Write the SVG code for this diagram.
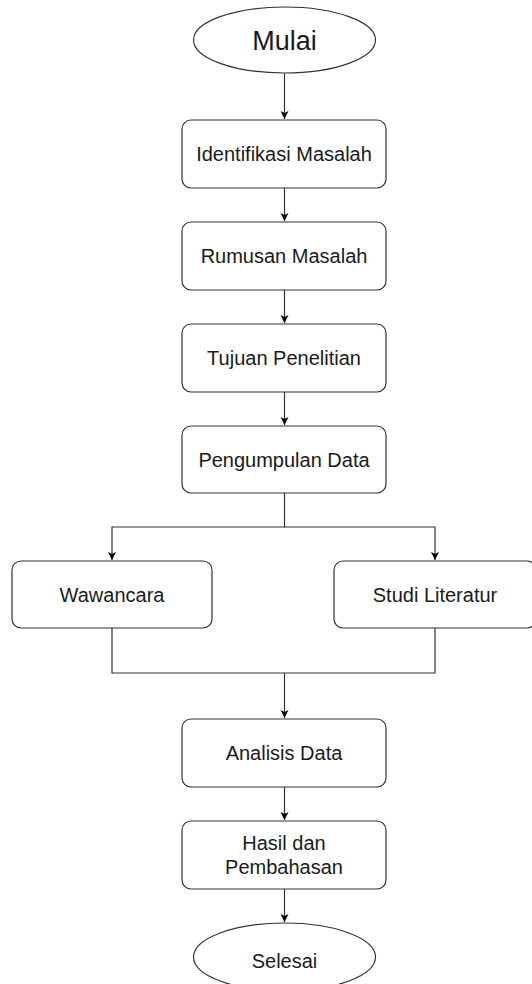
<svg xmlns="http://www.w3.org/2000/svg" width="532" height="984" viewBox="0 0 532 984">
<defs>
<marker id="ah" markerWidth="10" markerHeight="10" refX="9" refY="5" orient="auto" markerUnits="userSpaceOnUse">
<path d="M1,1 L9,5 L1,9 L3,5 Z" fill="#000"/>
</marker>
<style>
.box{fill:#fff;stroke:#333;stroke-width:1.2}
.t{font-family:"Liberation Sans",Arial,sans-serif;font-size:20px;fill:#1a1a1a;text-anchor:middle}
.big{font-size:27px}
.c{fill:none;stroke:#333;stroke-width:1.2}
</style>
</defs>
<rect width="532" height="984" fill="#fff"/>
<g id="connectors">
<path class="c" d="M284.5,73 V119" marker-end="url(#ah)"/>
<path class="c" d="M284.5,188 V221" marker-end="url(#ah)"/>
<path class="c" d="M284.5,290 V323" marker-end="url(#ah)"/>
<path class="c" d="M284.5,392 V425" marker-end="url(#ah)"/>
<path class="c" d="M284.5,493 V527 H112 V560" marker-end="url(#ah)"/>
<path class="c" d="M284.5,527 H435 V560" marker-end="url(#ah)"/>
<path class="c" d="M112,628 V673 H435 V628"/>
<path class="c" d="M284.5,673 V718" marker-end="url(#ah)"/>
<path class="c" d="M284.5,787 V820" marker-end="url(#ah)"/>
<path class="c" d="M284.5,889 V922" marker-end="url(#ah)"/>
</g>
<g id="mulai">
<ellipse class="box" cx="284.5" cy="40" rx="91" ry="33"/>
<text class="t big" x="284.5" y="49.5">Mulai</text>
</g>
<g id="identifikasi">
<rect class="box" x="182" y="120" width="204" height="68" rx="9"/>
<text class="t" x="284" y="161">Identifikasi Masalah</text>
</g>
<g id="rumusan">
<rect class="box" x="182" y="222" width="204" height="68" rx="9"/>
<text class="t" x="284" y="263">Rumusan Masalah</text>
</g>
<g id="tujuan">
<rect class="box" x="182" y="324" width="204" height="68" rx="9"/>
<text class="t" x="284" y="365">Tujuan Penelitian</text>
</g>
<g id="pengumpulan">
<rect class="box" x="182" y="426" width="204" height="67" rx="9"/>
<text class="t" x="284" y="466.5">Pengumpulan Data</text>
</g>
<g id="wawancara">
<rect class="box" x="12" y="561" width="200" height="67" rx="9"/>
<text class="t" x="112" y="601.5">Wawancara</text>
</g>
<g id="studi">
<rect class="box" x="334" y="561" width="202" height="67" rx="9"/>
<text class="t" x="435" y="601.5">Studi Literatur</text>
</g>
<g id="analisis">
<rect class="box" x="182" y="719" width="204" height="68" rx="9"/>
<text class="t" x="284" y="760">Analisis Data</text>
</g>
<g id="hasil">
<rect class="box" x="182" y="821" width="204" height="68" rx="9"/>
<text class="t" x="284" y="850">Hasil dan</text>
<text class="t" x="284" y="874">Pembahasan</text>
</g>
<g id="selesai">
<ellipse class="box" cx="284.5" cy="957" rx="91" ry="34"/>
<text class="t" x="284.5" y="968">Selesai</text>
</g>
</svg>
